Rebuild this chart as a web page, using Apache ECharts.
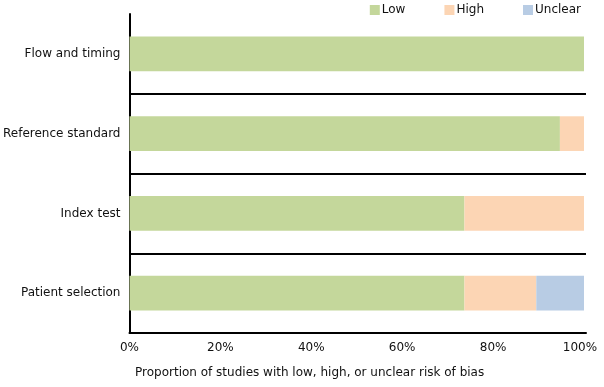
<!DOCTYPE html>
<html><head><meta charset="utf-8">
<script src="https://cdn.jsdelivr.net/npm/echarts@6/dist/echarts.min.js"></script>
<style>html,body{margin:0;padding:0;background:#fff}#c{width:604px;height:387px}</style>
</head><body><div id="c"></div>
<script>
const categories = ['Patient selection', 'Index test', 'Reference standard', 'Flow and timing'];
const lowValues = [73.7, 73.7, 94.7, 100];
const highValues = [15.8, 26.3, 5.3, 0];
const unclearValues = [10.5, 0, 0, 0];
const seriesNames = ['Low', 'High', 'Unclear'];
const tickValues = [0, 20, 40, 60, 80, 100];
const axisTitle = 'Proportion of studies with low, high, or unclear risk of bias';

const FONT = 'DejaVu Sans';
const TXT = '#111';
const chart = echarts.init(document.getElementById('c'), null, {renderer: 'canvas'});
const mk = (name, data, color) => ({
  name, type: 'bar', stack: 'all', data, barWidth: '43.5%',
  itemStyle: {color}, emphasis: {disabled: true}, silent: true
});
chart.setOption({
  animation: false,
  textStyle: {fontFamily: FONT},
  legend: {
    top: -1, right: 18, itemWidth: 10, itemHeight: 10, itemGap: 39,
    textStyle: {fontFamily: FONT, fontSize: 12, color: TXT, padding: [0, 0, 0, -3]},
    data: seriesNames.map(n => ({name: n, icon: 'rect'}))
  },
  grid: {left: 129, right: 18, top: 14, bottom: 54, containLabel: false},
  xAxis: {
    type: 'value', min: 0, max: 100.44, interval: 20,
    axisLine: {show: true, onZero: false, lineStyle: {color: '#000', width: 2}},
    axisTick: {show: false}, splitLine: {show: false},
    axisLabel: {
      margin: 9, fontFamily: FONT, fontSize: 12, color: TXT,
      formatter: v => {
        const r = Math.round(v);
        if (!tickValues.includes(r) || Math.abs(v - r) > 0.01) return '';
        return r === 100 ? '{last|' + r + '%}' : r + '%';
      },
      rich: {last: {fontFamily: FONT, fontSize: 12, color: TXT, padding: [0, 8, 0, 0]}}
    }
  },
  yAxis: {
    type: 'category', data: categories,
    axisLine: {show: true, lineStyle: {color: '#000', width: 2}},
    axisTick: {show: false},
    splitLine: {show: true, showMaxLine: false, lineStyle: {color: '#000', width: 2}},
    axisLabel: {margin: 9, fontFamily: FONT, fontSize: 12, color: TXT}
  },
  graphic: [{
    type: 'text', left: 135, top: 367,
    style: {text: axisTitle, font: '12px "DejaVu Sans"', fill: TXT}
  }],
  series: [
    mk(seriesNames[0], lowValues, '#c4d79b'),
    mk(seriesNames[1], highValues, '#fcd5b4'),
    mk(seriesNames[2], unclearValues, '#b8cce4')
  ]
});
</script></body></html>
